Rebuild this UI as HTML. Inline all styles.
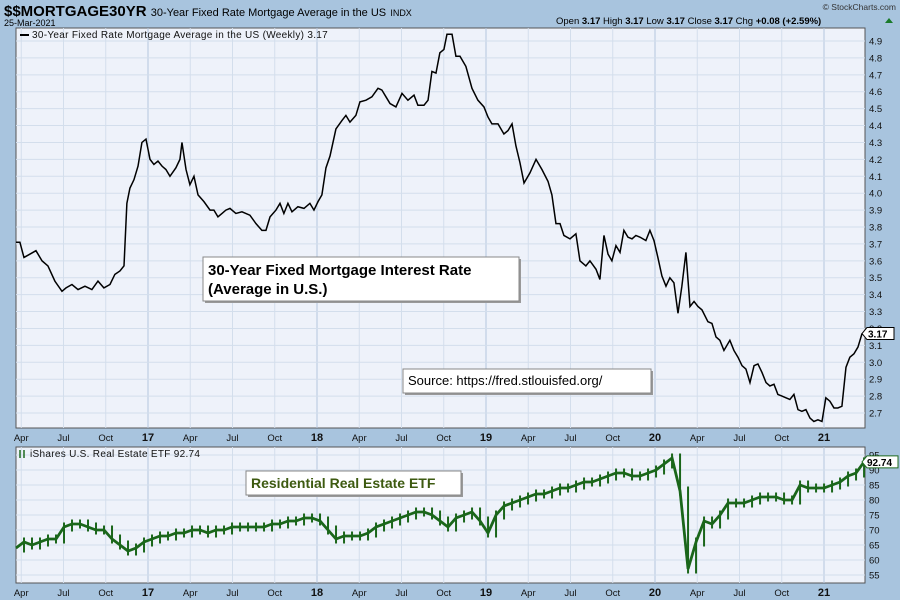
<!DOCTYPE html>
<html><head><meta charset="utf-8"><style>
body{margin:0;width:900px;height:600px;background:#a8c4de;font-family:"Liberation Sans",sans-serif;overflow:hidden}
svg{display:block}
</style></head><body>
<svg id="c" width="900" height="600">
<rect x="0" y="0" width="900" height="600" fill="#a8c4de"/>
<text x="4" y="16" font-size="15" font-weight="bold" fill="#000">$$MORTGAGE30YR <tspan font-size="11" font-weight="normal">30-Year Fixed Rate Mortgage Average in the US</tspan> <tspan font-size="9" font-weight="normal">INDX</tspan></text>
<text x="4" y="26" font-size="9" fill="#000">25-Mar-2021</text>
<text x="556" y="24" font-size="9.5" fill="#000">Open <tspan font-weight="bold">3.17</tspan>  High <tspan font-weight="bold">3.17</tspan>  Low <tspan font-weight="bold">3.17</tspan>  Close <tspan font-weight="bold">3.17</tspan>  Chg <tspan font-weight="bold">+0.08 (+2.59%)</tspan></text>
<path d="M885 23 l4 -5 l4 5z" fill="#1a7a2a"/>
<text x="896" y="10" font-size="8.5" fill="#333" text-anchor="end">© StockCharts.com</text>
<g id="top"></g><g id="bot"></g>
</svg>
<script>
const mDates=[2016.219,2016.242,2016.266,2016.302,2016.337,2016.373,2016.408,2016.449,2016.491,2016.515,2016.550,2016.586,2016.627,2016.668,2016.704,2016.739,2016.775,2016.804,2016.834,2016.858,2016.875,2016.893,2016.917,2016.941,2016.964,2016.988,2017.012,2017.035,2017.059,2017.083,2017.106,2017.130,2017.165,2017.189,2017.201,2017.225,2017.248,2017.272,2017.296,2017.331,2017.367,2017.390,2017.414,2017.438,2017.461,2017.485,2017.520,2017.556,2017.603,2017.639,2017.674,2017.698,2017.722,2017.757,2017.781,2017.804,2017.828,2017.852,2017.887,2017.923,2017.958,2017.982,2018.006,2018.029,2018.053,2018.077,2018.112,2018.148,2018.171,2018.195,2018.230,2018.254,2018.290,2018.325,2018.361,2018.384,2018.408,2018.432,2018.467,2018.503,2018.538,2018.574,2018.597,2018.633,2018.657,2018.680,2018.704,2018.727,2018.751,2018.769,2018.799,2018.822,2018.846,2018.881,2018.917,2018.952,2018.988,2019.012,2019.035,2019.071,2019.106,2019.130,2019.154,2019.177,2019.201,2019.225,2019.260,2019.296,2019.331,2019.367,2019.390,2019.414,2019.438,2019.461,2019.497,2019.532,2019.556,2019.591,2019.615,2019.651,2019.674,2019.698,2019.722,2019.745,2019.769,2019.793,2019.816,2019.840,2019.864,2019.887,2019.911,2019.946,2019.970,2019.994,2020.017,2020.041,2020.065,2020.088,2020.112,2020.136,2020.159,2020.183,2020.207,2020.231,2020.254,2020.278,2020.313,2020.337,2020.361,2020.384,2020.408,2020.443,2020.467,2020.491,2020.515,2020.538,2020.562,2020.586,2020.609,2020.633,2020.657,2020.680,2020.704,2020.727,2020.751,2020.775,2020.798,2020.822,2020.846,2020.869,2020.893,2020.917,2020.940,2020.964,2020.988,2021.011,2021.035,2021.059,2021.082,2021.106,2021.130,2021.153,2021.177,2021.201,2021.225];
const mRates=[3.71,3.71,3.62,3.64,3.66,3.60,3.57,3.48,3.42,3.44,3.46,3.43,3.45,3.43,3.48,3.44,3.46,3.52,3.54,3.57,3.94,4.03,4.08,4.16,4.30,4.32,4.20,4.17,4.19,4.16,4.14,4.10,4.15,4.20,4.30,4.14,4.05,4.10,3.99,3.95,3.90,3.90,3.86,3.88,3.90,3.91,3.88,3.89,3.87,3.82,3.78,3.78,3.86,3.90,3.94,3.88,3.94,3.89,3.92,3.91,3.94,3.90,3.95,3.99,4.15,4.22,4.38,4.43,4.46,4.42,4.46,4.54,4.55,4.57,4.62,4.61,4.57,4.53,4.51,4.59,4.55,4.58,4.52,4.52,4.55,4.72,4.71,4.83,4.85,4.94,4.94,4.81,4.81,4.75,4.62,4.55,4.51,4.45,4.41,4.41,4.35,4.37,4.41,4.28,4.18,4.06,4.12,4.20,4.14,4.07,3.99,3.82,3.82,3.75,3.73,3.76,3.60,3.57,3.60,3.55,3.49,3.75,3.64,3.60,3.69,3.65,3.78,3.74,3.73,3.75,3.74,3.72,3.78,3.72,3.62,3.51,3.45,3.50,3.47,3.29,3.45,3.65,3.33,3.36,3.33,3.31,3.24,3.23,3.15,3.13,3.07,3.13,3.07,3.03,2.98,2.96,2.88,2.98,2.99,2.94,2.88,2.86,2.87,2.81,2.80,2.79,2.78,2.81,2.72,2.71,2.72,2.67,2.65,2.66,2.65,2.79,2.77,2.73,2.73,2.74,2.97,3.03,3.05,3.09,3.17];
const rateTicks=[2.7,2.8,2.9,3.0,3.1,3.2,3.3,3.4,3.5,3.6,3.7,3.8,3.9,4.0,4.1,4.2,4.3,4.4,4.5,4.6,4.7,4.8,4.9];
const etfStart=2016.219, etfStep=0.04734;
const etfCloses=[64,66,65,66,67,67,71,72,72,71,70,70,67,65,63,64,66,67,68,68,69,69,70,70,69,70,70,71,71,71,71,71,72,72,73,73,74,74,73,70,67,68,68,68,69,71,72,73,74,75,76,76,75,73,71,74,75,76,73,69,75,78,79,80,81,82,82,83,84,84,85,86,86,87,88,89,89,88,88,89,90,92,94,83,57,66,73,72,75,79,79,79,80,81,81,81,80,80,85,84,84,84,85,86,88,89,92.7];
const etfTicks=[55,60,65,70,75,80,85,90,95];
const monthLabels=["Apr","Jul","Oct","17","Apr","Jul","Oct","18","Apr","Jul","Oct","19","Apr","Jul","Oct","20","Apr","Jul","Oct","21"];
const monthDates=[2016.25,2016.5,2016.75,2017,2017.25,2017.5,2017.75,2018,2018.25,2018.5,2018.75,2019,2019.25,2019.5,2019.75,2020,2020.25,2020.5,2020.75,2021];

const NS="http://www.w3.org/2000/svg";
const PL=16,PR=865;
const X=t=>-21+169*(t-2016);
const YT=v=>41+(4.9-v)*169.1;
const YB=v=>455+(95-v)*3;
function mk(p,tag,a){const e=document.createElementNS(NS,tag);for(const k in a)e.setAttribute(k,a[k]);p.appendChild(e);return e;}
const gTop=document.getElementById('top'), gBot=document.getElementById('bot');

function panel(g,y0,y1,name){
  const r=mk(g,'rect',{x:PL,y:y0,width:PR-PL,height:y1-y0,fill:'#eef2fa',stroke:'#555','stroke-width':1});
  
  
  monthDates.forEach((d,i)=>{const l=mk(g,'line',{x1:X(d),x2:X(d),y1:y0,y2:y1,stroke:monthLabels[i].length==2?'#b4c6de':'#d3deec','stroke-width':1});
    
    });
}
function xlabels(g,y){
  monthDates.forEach((d,i)=>{const yr=monthLabels[i].length==2;const t=mk(g,'text',{x:X(d),y:y,'font-size':yr?11:9.5,'font-weight':yr?'bold':'normal','text-anchor':'middle',fill:'#111'});t.textContent=monthLabels[i];
    
    });
}
panel(gTop,28,428,'mortgage-panel');
rateTicks.forEach(v=>{const y=YT(v);const l=mk(gTop,'line',{x1:PL,x2:PR,y1:y,y2:y,stroke:'#d3deec'});
  
  
  const t=mk(gTop,'text',{x:869,y:y+3.5,'font-size':9.5,fill:'#111'});t.textContent=v.toFixed(1);
  
  });
const lg=mk(gTop,'text',{x:32,y:38,'font-size':10,fill:'#111','letter-spacing':'0.3'});lg.textContent='30-Year Fixed Rate Mortgage Average in the US (Weekly) 3.17';


mk(gTop,'line',{x1:20,x2:29,y1:35,y2:35,stroke:'#000','stroke-width':2});
const mp=mk(gTop,'polyline',{points:mDates.map((d,i)=>X(d)+','+YT(mRates[i])).join(' '),fill:'none',stroke:'#000','stroke-width':1.5});


const lastY=YT(mRates[mRates.length-1]);
const tag=mk(gTop,'path',{d:`M862 ${lastY} l5 -6 h27 v12 h-27z`,fill:'#fff',stroke:'#000'});


const tt=mk(gTop,'text',{x:868,y:lastY+4,'font-size':10,'font-weight':'bold'});tt.textContent=mRates[mRates.length-1].toFixed(2);


xlabels(gTop,441);
function box(g,x,y,w,h,lines,fs,col,name){
  mk(g,'rect',{x:x+2,y:y+2,width:w,height:h,fill:'#999'});
  const r=mk(g,'rect',{x:x,y:y,width:w,height:h,fill:'#fff',stroke:'#888'});
  
  
  lines.forEach((s,i)=>{const t=mk(g,'text',{x:x+5,y:y+fs+3+i*(fs+4),'font-size':fs,'font-weight':col?'bold':'normal',fill:col||'#000'});t.textContent=s;
    
    });
}
box(gTop,203,257,316,44,['30-Year Fixed Mortgage Interest Rate','(Average in U.S.)'],15,'#000','mortgage-annotation');
box(gTop,403,369,248,24,['Source: https://fred.stlouisfed.org/'],13,null,'source-annotation');
panel(gBot,447,583,'etf-panel');
etfTicks.forEach(v=>{const y=YB(v);const l=mk(gBot,'line',{x1:PL,x2:PR,y1:y,y2:y,stroke:'#d3deec'});
  
  
  const t=mk(gBot,'text',{x:869,y:y+3.5,'font-size':9.5,fill:'#111'});t.textContent=v;
  
  });
const lg2=mk(gBot,'text',{x:30,y:457,'font-size':10,fill:'#111','letter-spacing':'0.3'});lg2.textContent='iShares U.S. Real Estate ETF 92.74';


mk(gBot,'path',{d:'M20 450 v8 M24 450 v8',stroke:'#1f6b1f','stroke-width':1.5});
const eX=i=>X(etfStart+i*etfStep);
etfCloses.forEach((v,i)=>{if(!i)return;const p=etfCloses[i-1];const lo=Math.min(p,v)-1.5,hi=Math.max(p,v)+1.5;
  const b=mk(gBot,'line',{x1:eX(i),x2:eX(i),y1:YB(hi),y2:YB(lo),stroke:'#1a661a','stroke-width':2});
  
  });
const ep=mk(gBot,'polyline',{points:etfCloses.map((v,i)=>eX(i)+','+YB(v)).join(' '),fill:'none',stroke:'#1a661a','stroke-width':2.8});


const ely=YB(etfCloses[etfCloses.length-1]);
const tg2=mk(gBot,'path',{d:`M862 ${ely} l5 -6 h31 v12 h-31z`,fill:'#fff',stroke:'#1f6b1f'});


const et=mk(gBot,'text',{x:867,y:ely+4,'font-size':10,'font-weight':'bold'});et.textContent='92.74';


box(gBot,246,471,215,24,['Residential Real Estate ETF'],14,'#3d5a10','etf-annotation');
xlabels(gBot,596);
</script>
</body></html>
